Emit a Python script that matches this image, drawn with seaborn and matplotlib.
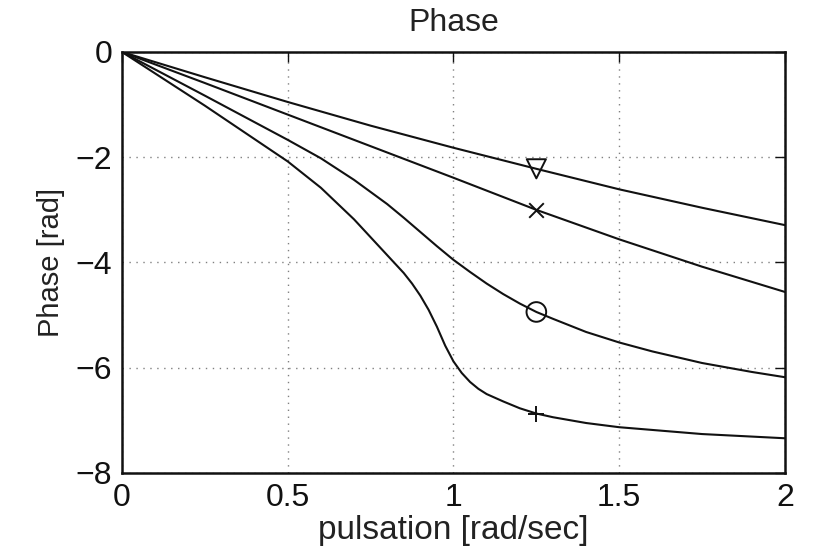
import matplotlib
matplotlib.use("Agg")
import matplotlib.pyplot as plt
import seaborn as sns
import pandas as pd

# ---- data ----
x_tri = [0, 0.25, 0.5, 0.75, 1.0, 1.25, 1.5, 1.75, 2.0]
y_tri = [0, -0.48, -0.95, -1.40, -1.82, -2.22, -2.61, -2.96, -3.29]

x_cross = [0, 0.25, 0.5, 0.75, 1.0, 1.25, 1.5, 1.75, 2.0]
y_cross = [0, -0.59, -1.19, -1.79, -2.39, -3.0, -3.56, -4.08, -4.56]

x_circ = [0, 0.25, 0.5, 0.6, 0.7, 0.8, 0.85, 0.9, 0.95, 1.0, 1.05, 1.1, 1.15, 1.2,
          1.25, 1.3, 1.4, 1.5, 1.6, 1.75, 1.9, 2.0]
y_circ = [0, -0.83, -1.67, -2.02, -2.43, -2.89, -3.15, -3.42, -3.69, -3.95, -4.18,
          -4.40, -4.60, -4.78, -4.94, -5.07, -5.32, -5.52, -5.69, -5.91, -6.08, -6.18]

x_plus = [0, 0.25, 0.5, 0.6, 0.7, 0.75, 0.8, 0.85, 0.875, 0.9, 0.925, 0.95, 0.975,
          1.0, 1.025, 1.05, 1.075, 1.1, 1.15, 1.2, 1.25, 1.3, 1.4, 1.5, 1.75, 2.0]
y_plus = [0, -1.02, -2.08, -2.58, -3.18, -3.52, -3.86, -4.20, -4.40, -4.63, -4.90,
          -5.22, -5.58, -5.88, -6.10, -6.27, -6.40, -6.50, -6.64, -6.77, -6.87,
          -6.94, -7.05, -7.13, -7.26, -7.34]

marker_x = 1.25
marker_y = {"tri": -2.22, "cross": -3.0, "circ": -4.94, "plus": -6.87}

x_ticks = [0, 0.5, 1, 1.5, 2]
x_ticklabels = ["0", "0.5", "1", "1.5", "2"]
y_ticks = [-8, -6, -4, -2, 0]
y_ticklabels = ["\u22128", "\u22126", "\u22124", "\u22122", "0"]

title = "Phase"
xlabel = "pulsation [rad/sec]"
ylabel = "Phase [rad]"

# ---- styling ----
sns.set_theme(style="white")
plt.rcParams["font.family"] = ["Liberation Sans", "DejaVu Sans"]

fig = plt.figure(figsize=(8.17, 5.5), dpi=100)
ax = fig.add_axes([0.1493, 0.14, 0.8115, 0.7655])

for xs, ys in [(x_tri, y_tri), (x_cross, y_cross), (x_circ, y_circ), (x_plus, y_plus)]:
    df = pd.DataFrame({"w": xs, "phase": ys})
    sns.lineplot(data=df, x="w", y="phase", ax=ax, color="#111111", linewidth=1.5,
                 estimator=None, sort=False)

sns.scatterplot(x=[marker_x], y=[marker_y["tri"]], ax=ax, marker="v", s=190,
                facecolors="none", edgecolor="#111111", linewidth=1.4, zorder=5)
sns.scatterplot(x=[marker_x], y=[marker_y["cross"]], ax=ax, marker="x", s=110,
                color="#111111", linewidth=1.4, zorder=5)
sns.scatterplot(x=[marker_x], y=[marker_y["circ"]], ax=ax, marker="o", s=200,
                facecolors="none", edgecolor="#111111", linewidth=1.4, zorder=5)
sns.scatterplot(x=[marker_x], y=[marker_y["plus"]], ax=ax, marker="+", s=130,
                color="#111111", linewidth=1.4, zorder=5)

ax.set_xlim(0, 2)
ax.set_ylim(-8, 0)
ax.set_xticks(x_ticks)
ax.set_xticklabels(x_ticklabels)
ax.set_yticks(y_ticks)
ax.set_yticklabels(y_ticklabels)

ax.grid(True, linestyle=(0, (1, 4)), color="0.5", linewidth=1.0)
ax.tick_params(direction="in", top=True, right=True, length=7, width=1.0,
               labelsize=23, pad=7, colors="#111111")
for sp in ax.spines.values():
    sp.set_visible(True)
    sp.set_color("#111111")
    sp.set_linewidth(1.8)

ax.set_title(title, fontsize=23, pad=15, color="#222222")
ax.set_xlabel(xlabel, fontsize=24, labelpad=2, color="#222222")
ax.set_ylabel(ylabel, fontsize=21, labelpad=8, color="#222222")

fig.savefig("out.png", dpi=100)
